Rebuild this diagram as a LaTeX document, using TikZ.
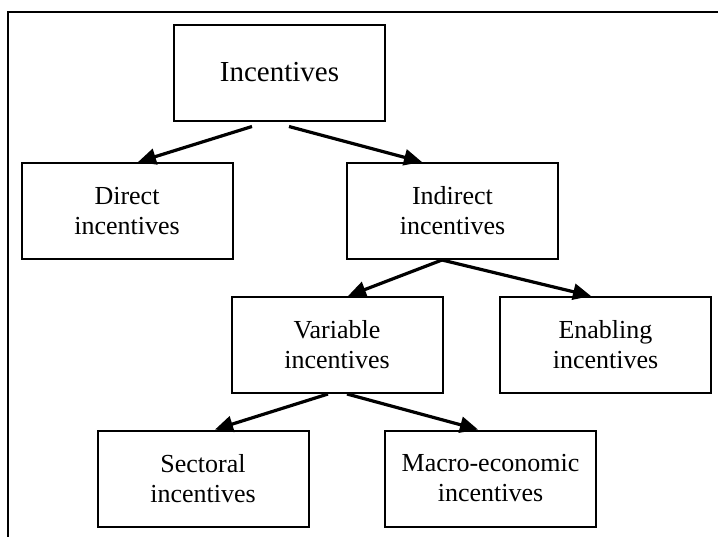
\documentclass[tikz,border=0pt]{standalone}
\usepackage{fontspec}
\setmainfont{Liberation Serif}
\usetikzlibrary{arrows.meta}

\begin{document}
\begin{tikzpicture}[
				x=1pt, y=-1pt,
				font=\fontsize{26}{30}\selectfont,
				box/.style={draw, line width=2pt, align=center, minimum width=211pt, minimum height=96pt, inner sep=0pt},
				to/.style={-{Triangle[length=18pt,width=16pt]}, line width=3.2pt}
				]
				\useasboundingbox (0,0) rectangle (718,536);
				
				% frame
				\draw[line width=2.2pt] (8,545) -- (8,12) -- (730,12);
				
				\node[box, font=\fontsize{29}{33}\selectfont] (top) at (279.5,72.5) {Incentives};
				\node[box] (direct) at (127,211) {Direct\\incentives};
				\node[box] (indirect) at (452.5,211) {Indirect\\incentives};
				\node[box] (variable) at (337,345) {Variable\\incentives};
				\node[box] (enabling) at (605.5,345) {Enabling\\incentives};
				\node[box] (sectoral) at (203,478.5) {Sectoral\\incentives};
				\node[box] (macro) at (490.5,478.5) {Macro-economic\\incentives};
				
				\draw[to] ([xshift=-27.5pt,yshift=-5pt]top.south) -- ([xshift=11pt]direct.north);
				\draw[to] ([xshift=9.5pt,yshift=-5pt]top.south) -- ([xshift=-30.5pt]indirect.north);
				\draw[to] ([xshift=-10.5pt]indirect.south) -- ([xshift=11pt]variable.north);
				\draw[to] ([xshift=-10.5pt]indirect.south) -- ([xshift=-14.5pt]enabling.north);
				\draw[to] ([xshift=-9pt]variable.south) -- ([xshift=12pt]sectoral.north);
				\draw[to] ([xshift=10pt]variable.south) -- ([xshift=-12.5pt]macro.north);
\end{tikzpicture}
\end{document}
